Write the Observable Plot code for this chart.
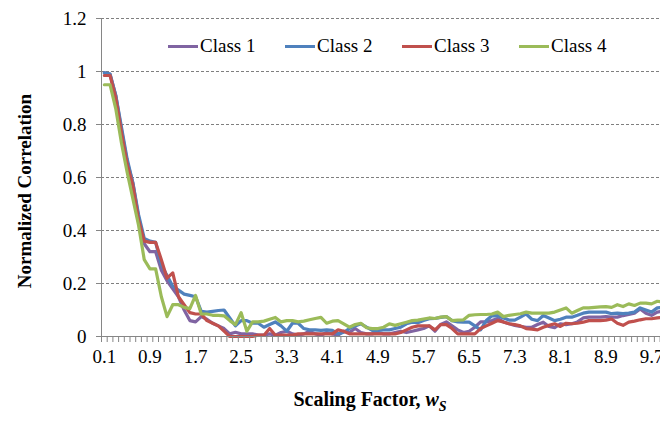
<!DOCTYPE html>
<html>
<head>
<meta charset="utf-8">
<script src="https://cdn.jsdelivr.net/npm/d3@7"></script>
<script src="https://cdn.jsdelivr.net/npm/@observablehq/plot@0.6"></script>
<style>
  html, body { margin: 0; padding: 0; background: #fff; overflow: hidden; }
  #wrap { position: relative; width: 680px; height: 421px; font-family: "Liberation Serif", "Times New Roman", "DejaVu Serif", serif; }
  #legend { position: absolute; top: 35px; left: 168px; display: flex; font-size: 19px; color: #000; }
  .item { display: flex; align-items: center; width: 117px; }
  .sw { width: 30px; height: 3px; margin-right: 2px; }
  #xtitle { position: absolute; top: 388px; left: 0; width: 740px; text-align: center; font-weight: bold; font-size: 20px; }
  #ytitle { position: absolute; left: 25px; top: 191px; transform: translate(-50%, -50%) rotate(-90deg); white-space: nowrap; font-weight: bold; font-size: 19px; }
  svg text { font-family: "Liberation Serif", "Times New Roman", "DejaVu Serif", serif; }
</style>
</head>
<body>
<div id="wrap">
  <div id="chart"></div>
  <div id="legend"></div>
  <div id="xtitle">Scaling Factor, <i>w</i><sub style="font-size:14px"><i>S</i></sub></div>
  <div id="ytitle">Normalized Correlation</div>
</div>
<script>
// Scaling factor categories 0.1 .. 10.0
const factors = d3.range(1, 101).map(i => +(i / 10).toFixed(1));
const xTickLabels = [0.1, 0.9, 1.7, 2.5, 3.3, 4.1, 4.9, 5.7, 6.5, 7.3, 8.1, 8.9, 9.7];
const yTicks = [0, 0.2, 0.4, 0.6, 0.8, 1, 1.2];
const seriesNames = ["Class 1", "Class 2", "Class 3", "Class 4"];
const seriesColors = ["#8064A2", "#4F81BD", "#C0504D", "#9BBB59"];

const class1 = [0.995,0.99,0.91,0.78,0.66,0.58,0.45,0.35,0.32,0.32,
  0.25,0.21,0.18,0.15,0.10,0.06,0.055,0.075,0.065,0.05,
  0.04,0.03,0.01,0.016,0.01,0.01,0.01,0.005,0.005,0.01,
  0.005,0.015,0.02,0.01,0.005,0.01,0.02,0.01,0.005,0.015,
  0.01,0.005,0.02,0.015,0.03,0.015,0.01,0.01,0.015,0.01,
  0.01,0.015,0.02,0.015,0.02,0.025,0.03,0.04,0.02,0.045,
  0.055,0.04,0.025,0.015,0.02,0.035,0.055,0.055,0.06,0.068,
  0.055,0.048,0.042,0.038,0.035,0.035,0.045,0.054,0.038,0.033,
  0.048,0.045,0.048,0.055,0.07,0.073,0.073,0.073,0.075,0.073,
  0.073,0.079,0.083,0.088,0.104,0.088,0.08,0.092,0.095,0.1];

const class2 = [0.995,0.99,0.91,0.79,0.67,0.58,0.46,0.37,0.36,0.355,
  0.27,0.23,0.19,0.175,0.16,0.155,0.15,0.095,0.092,0.095,
  0.098,0.1,0.07,0.04,0.06,0.06,0.05,0.05,0.035,0.045,
  0.055,0.04,0.02,0.05,0.05,0.03,0.025,0.025,0.023,0.025,
  0.023,0.01,0.016,0.03,0.04,0.048,0.035,0.023,0.023,0.025,
  0.025,0.03,0.035,0.048,0.054,0.052,0.06,0.067,0.068,0.072,
  0.075,0.06,0.055,0.054,0.054,0.04,0.025,0.06,0.078,0.079,
  0.07,0.062,0.062,0.073,0.085,0.065,0.06,0.079,0.07,0.06,
  0.065,0.073,0.073,0.08,0.088,0.092,0.092,0.092,0.092,0.086,
  0.088,0.086,0.088,0.092,0.108,0.1,0.092,0.108,0.11,0.11];

const class3 = [0.985,0.985,0.90,0.77,0.65,0.57,0.44,0.36,0.355,0.355,
  0.29,0.22,0.24,0.15,0.12,0.09,0.085,0.085,0.06,0.05,
  0.04,0.02,0.0,0.0,0.0,0.0,0.0,0.005,0.005,0.03,
  0.005,0.005,0.005,0.005,0.01,0.01,0.01,0.01,0.01,0.01,
  0.01,0.025,0.02,0.01,0.01,0.01,0.01,0.01,0.01,0.01,
  0.01,0.01,0.015,0.025,0.035,0.04,0.04,0.04,0.025,0.045,
  0.045,0.03,0.01,0.01,0.01,0.01,0.03,0.04,0.05,0.06,
  0.055,0.048,0.045,0.04,0.03,0.028,0.025,0.035,0.042,0.048,
  0.038,0.05,0.048,0.05,0.054,0.06,0.06,0.06,0.062,0.066,
  0.05,0.042,0.054,0.058,0.063,0.067,0.067,0.07,0.073,0.073];

const class4 = [0.95,0.95,0.86,0.73,0.62,0.52,0.42,0.29,0.255,0.255,
  0.15,0.075,0.12,0.12,0.11,0.105,0.155,0.085,0.085,0.08,
  0.08,0.078,0.06,0.045,0.09,0.02,0.055,0.055,0.058,0.065,
  0.072,0.055,0.06,0.06,0.055,0.058,0.063,0.068,0.072,0.05,
  0.058,0.06,0.048,0.035,0.045,0.05,0.033,0.03,0.03,0.035,
  0.048,0.042,0.048,0.054,0.06,0.062,0.066,0.07,0.068,0.073,
  0.075,0.06,0.062,0.063,0.08,0.082,0.083,0.083,0.085,0.092,
  0.075,0.08,0.083,0.086,0.092,0.088,0.088,0.088,0.088,0.092,
  0.1,0.108,0.088,0.098,0.108,0.108,0.11,0.112,0.113,0.11,
  0.12,0.113,0.123,0.117,0.126,0.126,0.123,0.133,0.13,0.13];

const allSeries = [class1, class2, class3, class4];
const rowsFor = (vals) => factors.map((f, i) => ({x: f, y: vals[i]}));
const boundaries = [factors[0] - 0.05, ...factors.map(f => f + 0.05)];

const lineMarks = allSeries.map((vals, k) =>
  Plot.line(rowsFor(vals), {x: "x", y: "y", stroke: seriesColors[k], strokeWidth: 3.2, strokeLinejoin: "round", strokeLinecap: "round"})
);

const chart = Plot.plot({
  width: 680,
  height: 421,
  marginLeft: 101,
  marginRight: 9,
  marginTop: 18,
  marginBottom: 85,
  style: {fontFamily: "'Liberation Serif', 'Times New Roman', 'DejaVu Serif', serif", fontSize: "19px", color: "#000", background: "#fff"},
  x: {domain: [boundaries[0], boundaries[boundaries.length - 1]]},
  y: {domain: [0, 1.2]},
  marks: [
    Plot.gridY(yTicks.filter(d => d > 0), {stroke: "#7f7f7f", strokeOpacity: 1, strokeDasharray: "3,2", strokeWidth: 1}),
    ...lineMarks,
    Plot.ruleY([0], {stroke: "#868686", strokeWidth: 1}),
    Plot.ruleX([boundaries[0]], {stroke: "#868686", strokeWidth: 1}),
    Plot.axisY({ticks: yTicks, tickSize: 5, tickPadding: 10, stroke: "#868686", fill: "#000", tickFormat: d3.format("~g"), label: null}),
    Plot.axisX({ticks: boundaries, tickSize: 6, stroke: "#868686", tickFormat: () => "", label: null}),
    Plot.axisX({ticks: xTickLabels, tickSize: 0, tickPadding: 13, fill: "#000", tickFormat: d => d.toFixed(1), label: null})
  ]
});
document.getElementById("chart").appendChild(chart);

const legend = document.getElementById("legend");
seriesNames.forEach((name, k) => {
  const item = document.createElement("div");
  item.className = "item";
  const sw = document.createElement("div");
  sw.className = "sw";
  sw.style.background = seriesColors[k];
  const lab = document.createElement("span");
  lab.textContent = name;
  item.appendChild(sw);
  item.appendChild(lab);
  legend.appendChild(item);
});
</script>
</body>
</html>
